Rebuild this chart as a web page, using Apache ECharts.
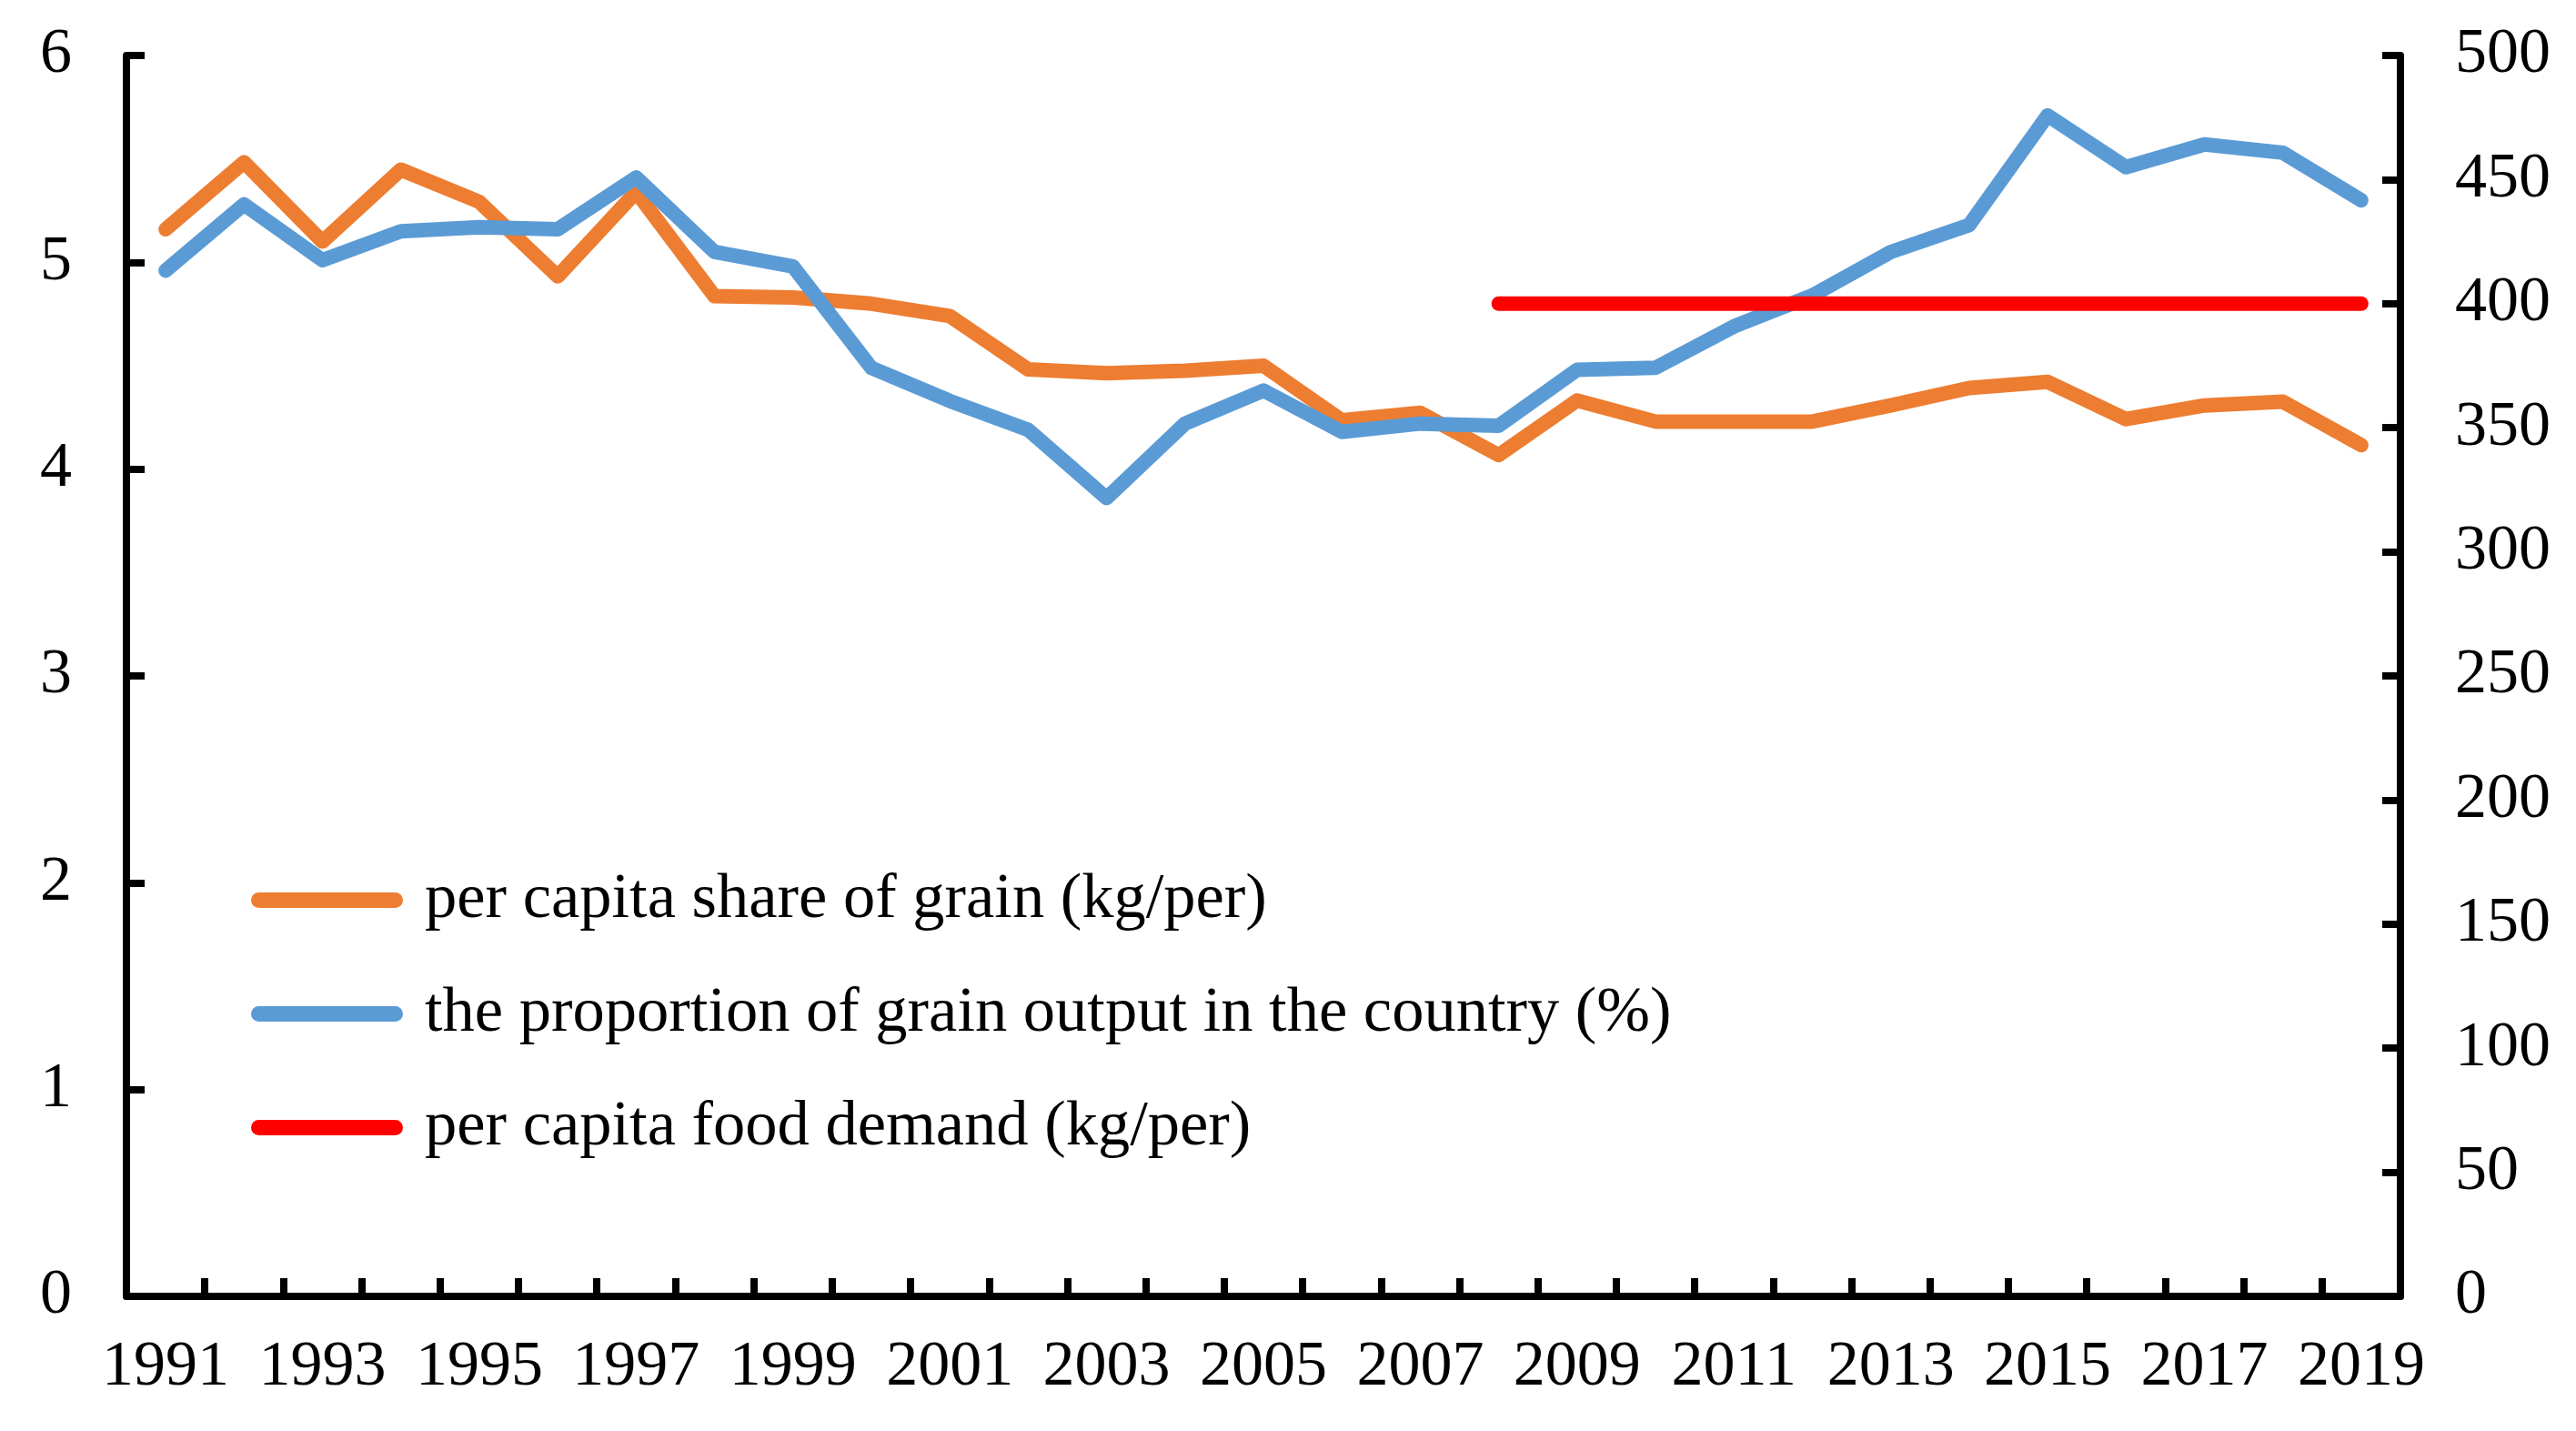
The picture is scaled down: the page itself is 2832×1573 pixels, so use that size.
<!DOCTYPE html>
<html>
<head>
<meta charset="utf-8">
<script src="https://cdn.jsdelivr.net/npm/echarts@6/dist/echarts.min.js"></script>
<style>
html,body{margin:0;padding:0;background:#fff;}
#chart{width:2832px;height:1573px;}
</style>
</head>
<body>
<div id="chart"></div>
<script>
const years = ['1991','1992','1993','1994','1995','1996','1997','1998','1999','2000','2001','2002','2003','2004','2005','2006','2007','2008','2009','2010','2011','2012','2013','2014','2015','2016','2017','2018','2019'];
// per capita share of grain (kg/per) - right axis
const perCapitaShare = [430, 457, 425, 454, 441, 411, 445, 403, 402.5, 400, 395, 373.5, 372, 373, 375, 353, 356, 339, 361, 352.5, 352.5, 352.5, 359, 366, 368.5, 353.5, 359, 360.5, 343];
// proportion of grain output in the country (%) - left axis
const proportion = [4.96, 5.28, 5.01, 5.15, 5.17, 5.16, 5.41, 5.05, 4.98, 4.49, 4.33, 4.19, 3.86, 4.22, 4.38, 4.18, 4.22, 4.21, 4.48, 4.49, 4.69, 4.84, 5.05, 5.18, 5.71, 5.46, 5.57, 5.53, 5.30];
// per capita food demand (kg/per) - right axis, from 2008
const demand = [null, null, null, null, null, null, null, null, null, null, null, null, null, null, null, null, null, 400, 400, 400, 400, 400, 400, 400, 400, 400, 400, 400, 400];
const names = ['per capita share of grain (kg/per)', 'the proportion of grain output in the country (%)', 'per capita food demand (kg/per)'];

const FONT = 'Liberation Serif';
const chart = echarts.init(document.getElementById('chart'));
const capsule = 'path://M8.5,0 L158.5,0 A8.5,8.5 0 0 1 158.5,17 L8.5,17 A8.5,8.5 0 0 1 8.5,0 Z';
const axisLineStyle = {show: true, lineStyle: {color: '#000', width: 8}};
const tickStyle = {show: true, inside: true, length: 20, lineStyle: {color: '#000', width: 8}};
chart.setOption({
  animation: false,
  backgroundColor: '#fff',
  grid: {left: 139, right: 193, top: 61, bottom: 148, containLabel: false},
  legend: {
    orient: 'vertical',
    left: 271,
    top: 949,
    itemWidth: 167,
    itemHeight: 17,
    itemGap: 54,
    data: names.map(n => ({name: n, icon: capsule})),
    textStyle: {fontFamily: FONT, fontSize: 70.5, color: '#000', lineHeight: 70, padding: [0, 0, 0, 19]}
  },
  xAxis: {
    type: 'category',
    data: years,
    boundaryGap: true,
    axisLine: axisLineStyle,
    axisTick: Object.assign({interval: 0}, tickStyle),
    axisLabel: {interval: 1, fontFamily: FONT, fontSize: 70, color: '#000', margin: 44},
    splitLine: {show: false}
  },
  yAxis: [
    {
      type: 'value', min: 0, max: 6, interval: 1, position: 'left',
      axisLine: axisLineStyle, axisTick: tickStyle,
      axisLabel: {fontFamily: FONT, fontSize: 70, color: '#000', margin: 60},
      splitLine: {show: false}
    },
    {
      type: 'value', min: 0, max: 500, interval: 50, position: 'right',
      axisLine: axisLineStyle, axisTick: tickStyle,
      axisLabel: {fontFamily: FONT, fontSize: 70, color: '#000', margin: 60},
      splitLine: {show: false}
    }
  ],
  series: [
    {name: names[0], type: 'line', yAxisIndex: 1, data: perCapitaShare, showSymbol: false, symbol: 'none',
     color: '#ED7D31', lineStyle: {width: 16, color: '#ED7D31', cap: 'round', join: 'round'}, z: 2},
    {name: names[1], type: 'line', yAxisIndex: 0, data: proportion, showSymbol: false, symbol: 'none',
     color: '#5B9BD5', lineStyle: {width: 16, color: '#5B9BD5', cap: 'round', join: 'round'}, z: 3},
    {name: names[2], type: 'line', yAxisIndex: 1, data: demand, showSymbol: false, symbol: 'none',
     color: '#FF0000', lineStyle: {width: 16, color: '#FF0000', cap: 'round', join: 'round'}, z: 4}
  ]
});
</script>
</body>
</html>
